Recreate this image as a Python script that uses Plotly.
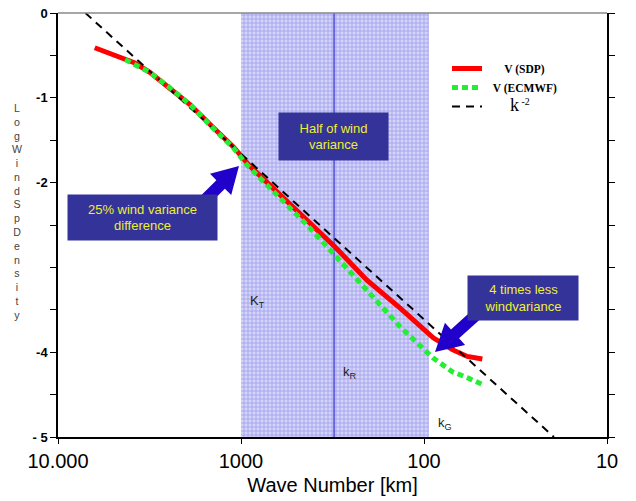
import math
import plotly.graph_objects as go

# ---------------- data ----------------
sdp_km = [6300, 3800, 3150, 2450, 1900, 1420, 1100, 900, 590, 306, 205, 135, 89, 70, 58, 48]
sdp_val = [-0.41, -0.59, -0.70, -0.88, -1.08, -1.35, -1.58, -1.80, -2.17, -2.76, -3.15, -3.48, -3.83, -3.97, -4.05, -4.08]

ecmwf_km = [4300, 3150, 2450, 1900, 1420, 1100, 930, 670, 436, 254, 135, 89, 70, 58, 48]
ecmwf_val = [-0.55, -0.70, -0.88, -1.08, -1.36, -1.59, -1.79, -2.09, -2.50, -3.05, -3.70, -4.07, -4.23, -4.30, -4.38]

kref_km = [7080, 19.5]
kref_val = [0.0, -5.0]

band_km = [1000, 94]          # shaded "half of wind variance" band
kr_km = 310                   # k_R line
y_range = [-5, 0]

x_tickvals = [10000, 1000, 100, 10]
x_ticktext = ["10.000", "1000", "100", "10"]
y_tickvals = [0, -1, -2, -4, -5]
y_ticktext = ["0", "-1", "-2", "-4", "- 5"]

# ---------------- geometry helpers (pixel -> paper) ----------------
W, H = 636, 501
L, R, T, B = 58, 29, 13, 64
PW, PH = W - L - R, H - T - B


def px(x):
    return (x - L) / PW


def py(y):
    return (H - B - y) / PH


def arrow_path(tail, tip, shaft_w, head_w, head_len):
    dx, dy = tip[0] - tail[0], tip[1] - tail[1]
    n = math.hypot(dx, dy)
    ux, uy = dx / n, dy / n
    nx, ny = -uy, ux
    bx, by = tip[0] - ux * head_len, tip[1] - uy * head_len
    pts = [
        (tail[0] + nx * shaft_w / 2, tail[1] + ny * shaft_w / 2),
        (bx + nx * shaft_w / 2, by + ny * shaft_w / 2),
        (bx + nx * head_w / 2, by + ny * head_w / 2),
        tip,
        (bx - nx * head_w / 2, by - ny * head_w / 2),
        (bx - nx * shaft_w / 2, by - ny * shaft_w / 2),
        (tail[0] - nx * shaft_w / 2, tail[1] - ny * shaft_w / 2),
    ]
    return "M " + " L ".join(f"{px(a):.5f},{py(b):.5f}" for a, b in pts) + " Z"


fig = go.Figure()

# shaded band
fig.add_trace(go.Scatter(
    x=[band_km[0], band_km[1], band_km[1], band_km[0], band_km[0]],
    y=[y_range[1], y_range[1], y_range[0], y_range[0], y_range[1]],
    mode="lines", fill="toself", line=dict(width=0),
    fillcolor="#c4c4f6",
    fillpattern=dict(shape="+", fgcolor="#7070de", bgcolor="#d4d4fa", size=4, solidity=0.4),
    showlegend=False, hoverinfo="skip"))

# k_R vertical line
fig.add_trace(go.Scatter(x=[kr_km, kr_km], y=y_range, mode="lines",
                         line=dict(color="#5050d4", width=1.5),
                         showlegend=False, hoverinfo="skip"))

NB = "\u00a0"
fig.add_trace(go.Scatter(x=sdp_km, y=sdp_val, mode="lines", name=NB * 6 + "<b>V (SDP)</b>",
                         line=dict(color="#ff0000", width=5), legendrank=1))
fig.add_trace(go.Scatter(x=kref_km, y=kref_val, mode="lines",
                         name=NB * 8 + "<span style='font-size:18px;font-weight:normal'>k</span>"
                              "<span style='font-size:14px;font-weight:normal'><sup> -2</sup></span>",
                         line=dict(color="black", width=2, dash="8px,6px"), legendrank=3))
fig.add_trace(go.Scatter(x=ecmwf_km, y=ecmwf_val, mode="lines", name=NB * 2 + "<b>V (ECMWF)</b>",
                         line=dict(color="#22ee33", width=5, dash="6px,4px"), legendrank=2))

shapes = [
    # gray top frame line
    dict(type="line", xref="paper", yref="paper", x0=0, x1=1, y0=1, y1=1,
         line=dict(color="#888888", width=1.5)),
    dict(type="path", xref="paper", yref="paper", layer="above",
         path=arrow_path((206, 199), (239, 166), 12, 30, 26),
         fillcolor="#2200cc", line=dict(width=0)),
    dict(type="path", xref="paper", yref="paper", layer="above",
         path=arrow_path((477, 314), (435, 352), 12, 30, 27),
         fillcolor="#2200cc", line=dict(width=0)),
]

box_font = dict(family="Arial, Liberation Sans", size=13, color="#eeee33")
lab_font = dict(family="Arial, Liberation Sans", size=13, color="#222222")
C = dict(xanchor="center", yanchor="middle", showarrow=False, xref="paper", yref="paper")
annotations = [
    dict(x=px(142.5), y=py(217.5), text="25% wind variance<br>difference",
         bgcolor="#333399", width=149, height=45, borderpad=0, font=box_font, **C),
    dict(x=px(333.5), y=py(136.5), text="Half of wind<br>variance",
         bgcolor="#333399", width=109, height=47, borderpad=0, font=box_font, **C),
    dict(x=px(523), y=py(298), text="4 times less<br>windvariance",
         bgcolor="#333399", width=110, height=44, borderpad=0, font=box_font, **C),
    dict(x=px(257), y=py(301), text="K<sub>T</sub>", font=lab_font, **C),
    dict(x=px(350), y=py(372), text="k<sub>R</sub>", font=lab_font, **C),
    dict(x=px(445), y=py(423), text="k<sub>G</sub>", font=lab_font, **C),
    dict(x=px(17), y=py(211.5), text="<br>".join(list("LogWindSpDensity")),
         font=dict(family="Arial, Liberation Sans", size=10.6, color="#444444"), **C),
]

fig.update_layout(
    width=W, height=H,
    margin=dict(l=L, r=R, t=T, b=B, autoexpand=False),
    paper_bgcolor="white", plot_bgcolor="white",
    font=dict(family="Arial, Liberation Sans", color="black"),
    shapes=shapes, annotations=annotations,
    legend=dict(x=px(447), y=py(54), xanchor="left", yanchor="top",
                bgcolor="rgba(0,0,0,0)", font=dict(family="Liberation Serif, Times New Roman", size=11.5),
                itemwidth=30, tracegroupgap=0),
    xaxis=dict(type="log", range=[4, 1], tickvals=x_tickvals, ticktext=x_ticktext,
               showgrid=False, zeroline=False, showline=True, linecolor="black", linewidth=1.5,
               ticks="outside", ticklen=5, tickcolor="black",
               tickfont=dict(size=20, family="Arial, Liberation Sans"),
               title=dict(text="Wave Number [km]", font=dict(size=20, family="Arial, Liberation Sans"), standoff=7)),
    yaxis=dict(range=y_range, tickvals=y_tickvals, ticktext=y_ticktext,
               showgrid=False, zeroline=False, showline=True, linecolor="black", linewidth=1.5,
               mirror="ticks", ticks="outside", ticklen=6, tickcolor="black",
               minor=dict(dtick=0.5, ticks="outside", ticklen=6, tickcolor="black"),
               tickfont=dict(size=13, family="Arial, Liberation Sans", weight="bold")),
)

fig.write_html("out.html", config={"displayModeBar": False},
               post_script="document.body.style.margin='0';")
